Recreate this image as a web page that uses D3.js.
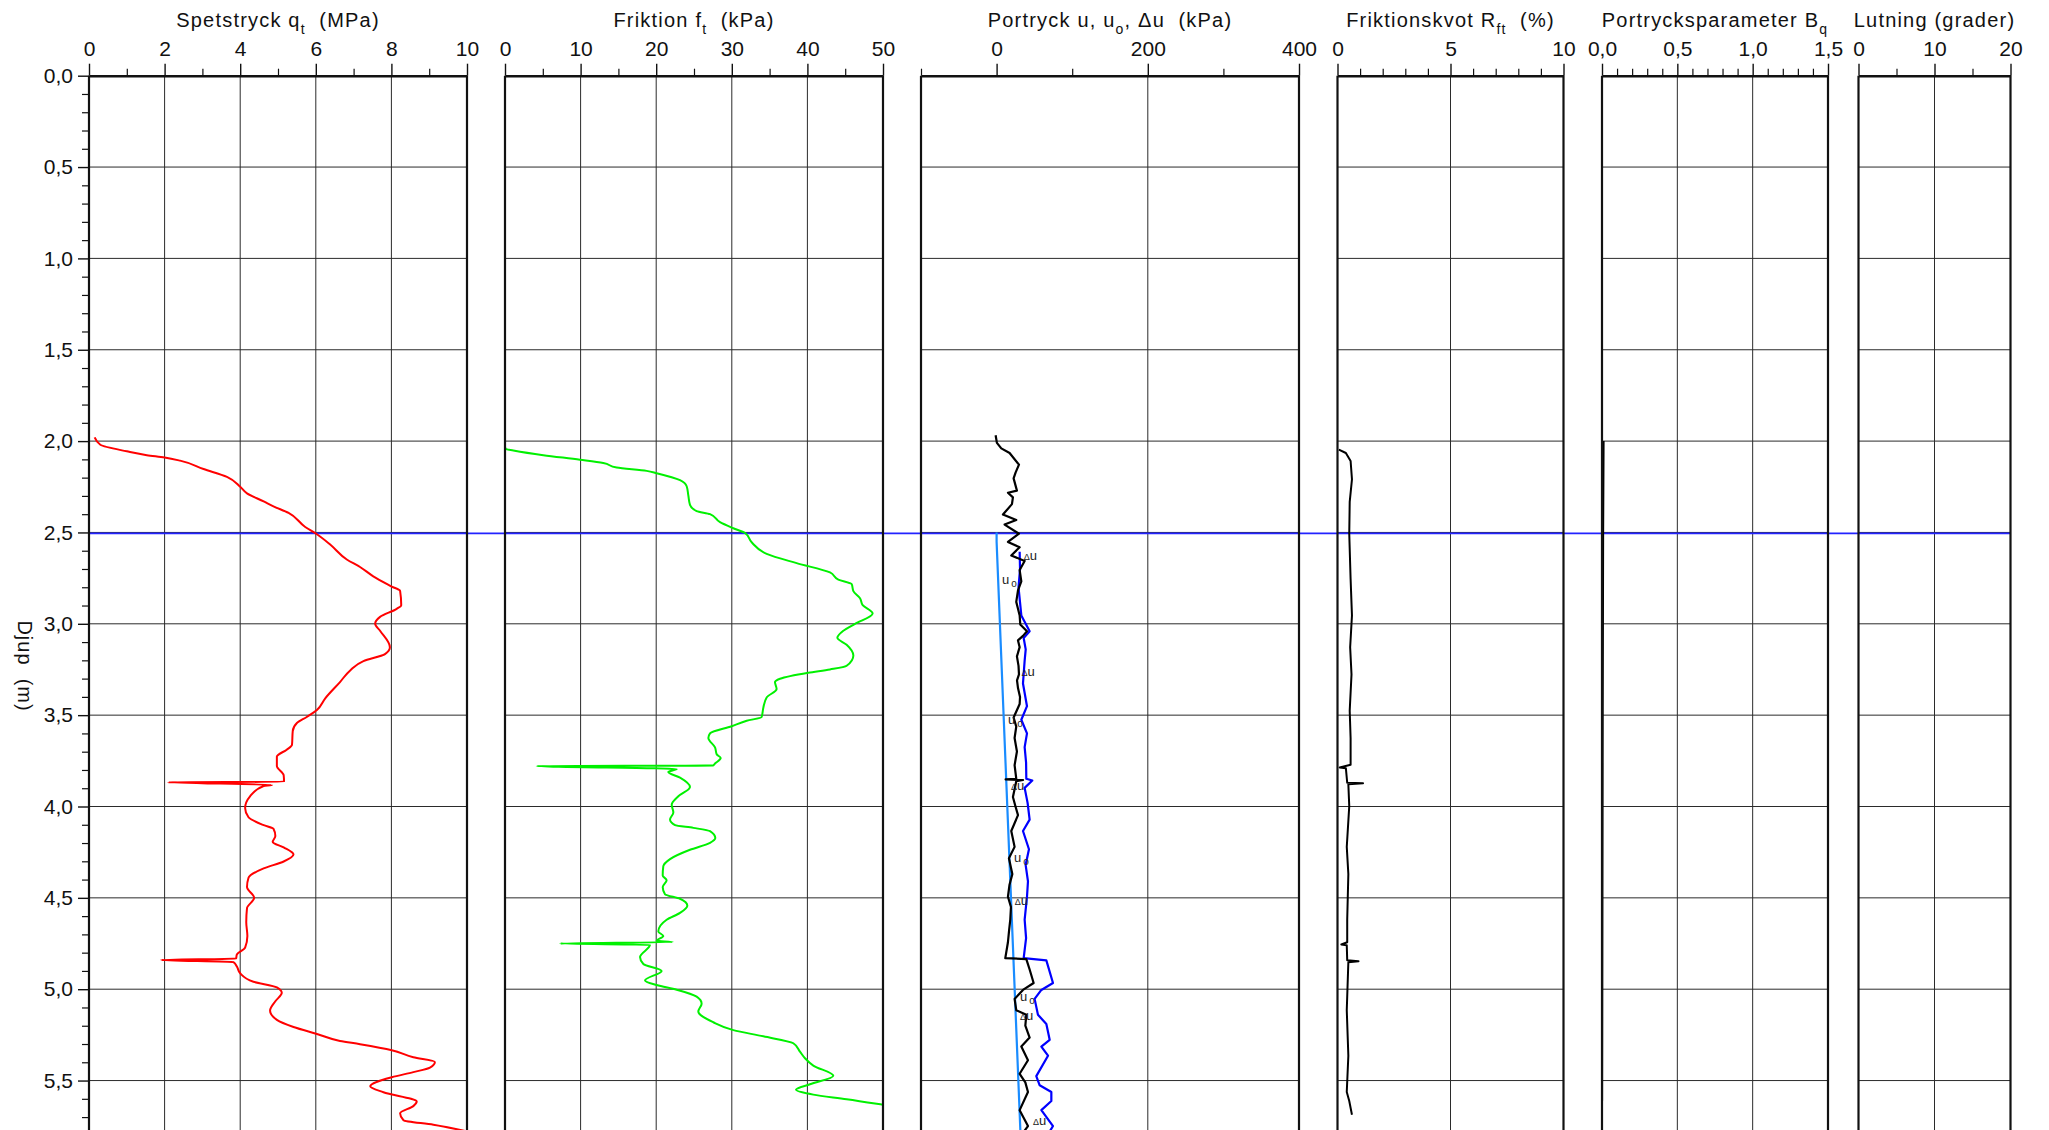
<!DOCTYPE html>
<html>
<head>
<meta charset="utf-8">
<title>CPT</title>
<script src="https://cdn.jsdelivr.net/npm/d3@7"></script>
<style>
  body { margin: 0; background: #fff; }
  svg { display: block; font-family: 'Liberation Sans', Arial, sans-serif; }
</style>
</head>
<body>
<svg id="chart" width="2049" height="1130"></svg>
<script>
'use strict'

// depth axis (m)
const depthTicks = [0, 0.5, 1, 1.5, 2, 2.5, 3, 3.5, 4, 4.5, 5, 5.5]
const depthLabels = ['0,0', '0,5', '1,0', '1,5', '2,0', '2,5', '3,0', '3,5', '4,0', '4,5', '5,0', '5,5']
const waterLevel = 2.5

// top axes, major and minor ticks per column
const qtTicks = [0, 2, 4, 6, 8, 10]
const qtMinor = [1, 3, 5, 7, 9]
const ftTicks = [0, 10, 20, 30, 40, 50]
const ftMinor = [5, 15, 25, 35, 45]
const uTicks = [0, 200, 400]
const uMinor = [-100, 100, 300]
const rfTicks = [0, 5, 10]
const rfMinor = [1, 2, 3, 4, 6, 7, 8, 9]
const bqTicks = [0, 0.5, 1, 1.5]
const bqLabels = ['0,0', '0,5', '1,0', '1,5']
const bqMinor = [0.1, 0.2, 0.3, 0.4, 0.6, 0.7, 0.8, 0.9, 1.1, 1.2, 1.3, 1.4]
const incTicks = [0, 10, 20]
const incMinor = [5, 15]

// series, [depth m, value]
const qt = [[1.98, 0.15], [2.02, 0.3], [2.056, 1.0], [2.077, 1.53], [2.09, 2.0], [2.107, 2.41], [2.153, 3.03],
  [2.196, 3.65], [2.25, 4.0], [2.286, 4.18], [2.33, 4.62], [2.357, 4.88], [2.393, 5.28], [2.47, 5.72], [2.51, 6.03],
  [2.566, 6.38], [2.648, 6.82], [2.689, 7.17], [2.74, 7.52], [2.796, 8.01], [2.82, 8.23], [2.898, 8.26], [2.918, 8.14],
  [2.962, 7.70], [3.0, 7.57], [3.038, 7.70], [3.128, 7.96], [3.166, 7.83], [3.204, 7.26], [3.255, 6.91], [3.319, 6.64],
  [3.408, 6.25], [3.472, 6.03], [3.51, 5.76], [3.543, 5.50], [3.587, 5.39], [3.663, 5.37], [3.689, 5.23], [3.727, 4.97],
  [3.778, 4.97], [3.829, 5.15], [3.865, 5.16], [3.867, 2.09], [3.882, 4.84], [3.888, 4.62], [3.944, 4.26], [4.008, 4.13],
  [4.059, 4.22], [4.102, 4.62], [4.122, 4.88], [4.161, 4.93], [4.194, 4.86], [4.224, 5.15], [4.263, 5.41], [4.301, 5.15],
  [4.339, 4.62], [4.39, 4.22], [4.441, 4.18], [4.5, 4.37], [4.556, 4.18], [4.633, 4.16], [4.709, 4.19], [4.773, 4.13],
  [4.811, 3.91], [4.833, 3.89], [4.84, 1.91], [4.852, 3.82], [4.875, 3.91], [4.913, 4.0], [4.959, 4.35], [4.99, 4.97],
  [5.02, 5.10], [5.066, 4.93], [5.117, 4.79], [5.168, 4.97], [5.207, 5.41], [5.245, 6.03], [5.283, 6.64], [5.301, 7.17],
  [5.334, 8.01], [5.372, 8.58], [5.398, 9.15], [5.429, 9.02], [5.454, 8.58], [5.482, 8.01], [5.531, 7.44], [5.564, 7.79],
  [5.615, 8.67], [5.64, 8.58], [5.679, 8.23], [5.717, 8.32], [5.742, 9.11], [5.776, 9.95]]

const ft = [[2.03, 0], [2.043, 0.1], [2.051, 1.1], [2.077, 5.07], [2.102, 9.92], [2.12, 13.0], [2.145, 14.77], [2.163, 18.74],
  [2.176, 20.06], [2.214, 23.15], [2.247, 24.03], [2.298, 24.25], [2.349, 24.47], [2.383, 25.35], [2.40, 27.12], [2.444, 28.44],
  [2.477, 30.2], [2.503, 31.75], [2.554, 32.63], [2.617, 34.61], [2.668, 38.58], [2.719, 42.99], [2.758, 44.09], [2.783, 45.86],
  [2.821, 46.08], [2.86, 46.96], [2.898, 47.31], [2.944, 48.63], [3.0, 46.3], [3.038, 44.75], [3.077, 43.96], [3.115, 45.19],
  [3.173, 46.08], [3.23, 45.19], [3.25, 42.99], [3.268, 40.12], [3.301, 36.38], [3.319, 35.71], [3.357, 35.93], [3.403, 34.61],
  [3.459, 34.17], [3.51, 33.95], [3.531, 31.97], [3.561, 29.98], [3.6, 27.12], [3.625, 26.9], [3.676, 27.78], [3.714, 28.0],
  [3.735, 28.53], [3.765, 27.78], [3.776, 27.5], [3.778, 4.19], [3.795, 22.71], [3.811, 21.6], [3.842, 23.15], [3.893, 24.47],
  [3.944, 22.93], [3.99, 22.05], [4.033, 22.27], [4.071, 21.83], [4.102, 22.49], [4.117, 24.91], [4.135, 27.12], [4.173, 27.82],
  [4.199, 27.12], [4.237, 24.47], [4.288, 21.83], [4.327, 20.94], [4.378, 20.86], [4.403, 21.38], [4.441, 20.86], [4.48, 21.16],
  [4.505, 23.15], [4.543, 24.12], [4.582, 23.15], [4.62, 21.38], [4.684, 20.28], [4.709, 20.94], [4.735, 20.06], [4.742, 22.18],
  [4.75, 7.28], [4.757, 19.18], [4.824, 17.86], [4.862, 18.3], [4.9, 20.72], [4.952, 18.52], [4.977, 20.06], [5.003, 22.71],
  [5.041, 25.35], [5.079, 26.01], [5.122, 25.57], [5.181, 27.56], [5.224, 30.2], [5.258, 34.17], [5.296, 38.14], [5.342, 39.02],
  [5.378, 39.68], [5.418, 40.78], [5.474, 43.43], [5.52, 40.34], [5.551, 38.49], [5.577, 40.78], [5.602, 45.19], [5.633, 50],
  [5.66, 54]]

const uMeasured = [[1.968, -1.3], [2.01, 0.4], [2.04, 6.2], [2.065, 17.2], [2.129, 29.6], [2.171, 25.2], [2.204, 22.5],
  [2.271, 26.9], [2.283, 15.0], [2.308, 21.6], [2.345, 20.3], [2.402, 8.4], [2.432, 26.0], [2.457, 10.6], [2.507, 29.6],
  [2.552, 15.0], [2.581, 30.5], [2.626, 19.4], [2.656, 37.1], [2.706, 30.5], [2.768, 32.7], [2.817, 28.3], [2.88, 26.0],
  [2.954, 30.5], [3.004, 31.3], [3.041, 40.2], [3.066, 34.9], [3.091, 28.3], [3.128, 30.5], [3.178, 26.9], [3.23, 29.0],
  [3.277, 29.6], [3.31, 27.0], [3.352, 28.3], [3.4, 31.0], [3.439, 30.5], [3.513, 22.5], [3.563, 26.0], [3.625, 23.8],
  [3.699, 26.9], [3.774, 23.8], [3.848, 26.0], [3.852, 11.9], [3.855, 35.0], [3.862, 26.0], [3.948, 21.6], [4.0, 25.0],
  [4.047, 28.3], [4.134, 19.4], [4.221, 23.8], [4.283, 16.3], [4.37, 20.8], [4.43, 17.0], [4.494, 15.0], [4.55, 19.0],
  [4.619, 18.1], [4.68, 16.5], [4.743, 15.0], [4.83, 11.5], [4.835, 39.3], [4.892, 43.7], [4.966, 49.0], [5.004, 34.9],
  [5.053, 23.8], [5.115, 26.0], [5.14, 39.3], [5.2, 38.0], [5.265, 43.7], [5.314, 32.7], [5.389, 41.5], [5.463, 30.5],
  [5.51, 38.0], [5.563, 41.5], [5.662, 30.5], [5.749, 41.5], [5.78, 36]]

const uTotal = [[2.606, 30.5], [2.7, 31], [2.8, 29], [2.954, 32.7], [3.041, 43.7], [3.078, 35.8], [3.14, 38.5], [3.202, 37.1],
  [3.327, 34.9], [3.451, 40.2], [3.525, 32.7], [3.6, 40.2], [3.675, 37.1], [3.76, 39.0], [3.848, 39.3], [3.858, 47.2],
  [3.898, 37.1], [3.98, 41.0], [4.072, 43.7], [4.134, 34.9], [4.234, 42.8], [4.32, 38.4], [4.41, 41.5], [4.494, 40.2],
  [4.619, 37.1], [4.72, 39.0], [4.83, 35.8], [4.842, 65.8], [4.966, 74.6], [5.004, 59.2], [5.053, 50.3], [5.14, 54.7],
  [5.19, 65.8], [5.277, 70.2], [5.314, 59.2], [5.364, 68.0], [5.476, 52.5], [5.526, 57.0], [5.563, 72.4], [5.612, 72.4],
  [5.662, 59.2], [5.749, 74.6], [5.78, 70]]

const u0 = [[2.5, 0], [2.55, 0], [5.78, 31.5]]

const rf = [[2.047, 0.06], [2.065, 0.37], [2.109, 0.58], [2.209, 0.64], [2.333, 0.54], [2.507, 0.52], [2.755, 0.58],
  [2.954, 0.64], [3.128, 0.56], [3.277, 0.62], [3.476, 0.54], [3.625, 0.58], [3.772, 0.58], [3.786, 0.1], [3.79, 0.37],
  [3.87, 0.43], [3.873, 1.13], [3.878, 0.48], [3.998, 0.52], [4.221, 0.41], [4.37, 0.48], [4.619, 0.43], [4.743, 0.43],
  [4.755, 0.17], [4.76, 0.41], [4.842, 0.43], [4.847, 0.93], [4.852, 0.48], [5.115, 0.41], [5.364, 0.48], [5.563, 0.41],
  [5.612, 0.52], [5.687, 0.64]]

const bq = [[2.0, 0.012], [2.5, 0.009], [3.5, 0.006], [4.5, 0.004], [5.61, 0.002]]

// small curve labels in the pore pressure column, [depth m, kPa]
const duLabelPos = [[2.651, 36], [3.286, 33], [3.91, 19], [4.539, 24], [5.169, 31], [5.745, 48]]
const u0LabelPos = [[2.782, 7], [3.549, 15], [4.304, 23], [5.065, 31]]

const H = 1130
const plotTop = 75.7

const svg = d3.select('#chart')

const y = d3.scaleLinear().domain([0, 5.5]).range([plotTop, plotTop + 5.5 * 182.7])

const columns = [
  { x0: 89, x1: 467, domain: [0, 10], ticks: qtTicks, minor: qtMinor, labels: qtTicks.map(String),
    title: [['Spetstryck q'], ['t', 'sub'], ['  (MPa)']] },
  { x0: 505, x1: 883, domain: [0, 50], ticks: ftTicks, minor: ftMinor, labels: ftTicks.map(String),
    title: [['Friktion f'], ['t', 'sub'], ['  (kPa)']] },
  { x0: 921, x1: 1299, domain: [-100, 400], ticks: uTicks, minor: uMinor, labels: uTicks.map(String),
    title: [['Portryck u, u'], ['o', 'sub'], [', \u0394u  (kPa)']] },
  { x0: 1337.5, x1: 1563.5, domain: [0, 10], ticks: rfTicks, minor: rfMinor, labels: rfTicks.map(String),
    title: [['Friktionskvot R'], ['ft', 'sub'], ['  (%)']] },
  { x0: 1602, x1: 1828, domain: [0, 1.5], ticks: bqTicks, minor: bqMinor, labels: bqLabels,
    title: [['Portrycksparameter B'], ['q', 'sub']] },
  { x0: 1858.5, x1: 2010.5, domain: [0, 20], ticks: incTicks, minor: incMinor, labels: incTicks.map(String),
    title: [['Lutning (grader)']] }
]

columns.forEach(c => { c.x = d3.scaleLinear().domain(c.domain).range([c.x0, c.x1]) })

const defs = svg.append('defs')
columns.forEach((c, i) => {
  defs.append('clipPath').attr('id', 'clip' + i)
    .append('rect').attr('x', c.x0).attr('y', plotTop).attr('width', c.x1 - c.x0).attr('height', H - plotTop)
})

const gridColor = '#2b2b2b'

// grid
columns.forEach(c => {
  const g = svg.append('g')
  g.selectAll('line.h').data(depthTicks.filter(d => d > 0)).enter().append('line')
    .attr('x1', c.x0).attr('x2', c.x1)
    .attr('y1', d => y(d)).attr('y2', d => y(d))
    .attr('stroke', gridColor).attr('stroke-width', 1)
  g.selectAll('line.v').data(c.ticks.slice(1, -1)).enter().append('line')
    .attr('x1', d => c.x(d)).attr('x2', d => c.x(d))
    .attr('y1', plotTop).attr('y2', H)
    .attr('stroke', gridColor).attr('stroke-width', 1)
})

// ground water level
svg.append('line')
  .attr('x1', columns[0].x0).attr('x2', columns[5].x1)
  .attr('y1', y(waterLevel) + 1).attr('y2', y(waterLevel) + 1)
  .attr('stroke', '#2323ff').attr('stroke-width', 1.8)

function drawSeries (i, data, color, w, curve) {
  const c = columns[i]
  const line = d3.line().x(d => c.x(d[1])).y(d => y(d[0])).curve(curve || d3.curveLinear)
  svg.append('path').datum(data)
    .attr('clip-path', 'url(#clip' + i + ')')
    .attr('d', line)
    .attr('fill', 'none')
    .attr('stroke', color)
    .attr('stroke-width', w)
    .attr('stroke-linejoin', 'round')
}

drawSeries(0, qt, '#ff0000', 2, d3.curveMonotoneY)
drawSeries(1, ft, '#00f000', 2, d3.curveMonotoneY)
drawSeries(2, u0, '#1a8cff', 2.2)
drawSeries(2, uTotal, '#0000ff', 2.2)
drawSeries(2, uMeasured, '#000000', 2.2)
drawSeries(3, rf, '#000000', 2)
drawSeries(4, bq, '#000000', 1.6)

// curve labels
const ux = columns[2].x
duLabelPos.forEach(p => {
  const t = svg.append('text').attr('x', ux(p[1])).attr('y', y(p[0])).attr('fill', '#222')
  t.append('tspan').attr('font-size', 9).text('\u0394')
  t.append('tspan').attr('font-size', 13).text('u')
})
u0LabelPos.forEach(p => {
  const t = svg.append('text').attr('x', ux(p[1])).attr('y', y(p[0])).attr('fill', '#222')
  t.append('tspan').attr('font-size', 13).text('u')
  t.append('tspan').attr('font-size', 10).attr('dx', 2).attr('dy', 3).text('o')
})

// borders and top axes
columns.forEach(c => {
  const g = svg.append('g')
  g.selectAll('line').data([c.x0, c.x1]).enter().append('line')
    .attr('x1', d => d).attr('x2', d => d)
    .attr('y1', plotTop).attr('y2', H)
    .attr('stroke', '#111').attr('stroke-width', 2.2)

  const minorAxis = d3.axisTop(c.x).tickValues(c.minor).tickSize(7).tickSizeOuter(0).tickFormat('')
  const gm = g.append('g').attr('transform', 'translate(0,' + plotTop + ')').call(minorAxis)
  gm.select('.domain').remove()
  gm.selectAll('line').attr('stroke', '#111').attr('stroke-width', 1.2)

  const axis = d3.axisTop(c.x).tickValues(c.ticks).tickSize(12).tickSizeOuter(0).tickPadding(8)
    .tickFormat((d, i) => c.labels[i])
  const ga = g.append('g').attr('transform', 'translate(0,' + plotTop + ')').call(axis)
  ga.attr('font-size', 21).attr('font-family', null)
  ga.select('.domain').attr('stroke', '#111').attr('stroke-width', 2.4)
  ga.selectAll('.tick line').attr('stroke', '#111').attr('stroke-width', 1.4)
  ga.selectAll('.tick text').attr('fill', '#111')

  const title = g.append('text')
    .attr('x', (c.x0 + c.x1) / 2).attr('y', 26.5)
    .attr('text-anchor', 'middle')
    .attr('font-size', 20).attr('letter-spacing', 1.2)
    .attr('fill', '#111')
    .style('white-space', 'pre')
  let wasSub = false
  c.title.forEach(p => {
    const s = title.append('tspan').text(p[0])
    if (p[1] === 'sub') {
      s.attr('font-size', 14).attr('dy', 7)
      wasSub = true
    } else if (wasSub) {
      s.attr('dy', -7)
      wasSub = false
    }
  })
})

// depth axis
const yAxis = d3.axisLeft(y).tickValues(depthTicks).tickSize(11).tickPadding(5).tickFormat((d, i) => depthLabels[i])
const gy = svg.append('g').attr('transform', 'translate(' + columns[0].x0 + ',0)').call(yAxis)
gy.attr('font-size', 21).attr('font-family', null)
gy.select('.domain').remove()
gy.selectAll('.tick line').attr('stroke', '#111').attr('stroke-width', 1.4)
gy.selectAll('.tick text').attr('fill', '#111')

const depthMinor = d3.range(1, 58).map(k => k / 10).filter(d => Math.abs(d * 2 - Math.round(d * 2)) > 1e-6)
const yMinor = d3.axisLeft(y).tickValues(depthMinor).tickSize(7).tickFormat('')
const gym = svg.append('g').attr('transform', 'translate(' + columns[0].x0 + ',0)').call(yMinor)
gym.select('.domain').remove()
gym.selectAll('line').attr('stroke', '#111').attr('stroke-width', 1.2)

svg.append('text')
  .attr('transform', 'translate(25,666) rotate(90)')
  .attr('text-anchor', 'middle')
  .attr('dominant-baseline', 'central')
  .attr('font-size', 20).attr('letter-spacing', 1)
  .attr('fill', '#111')
  .style('white-space', 'pre')
  .text('Djup  (m)')
</script>
</body>
</html>
